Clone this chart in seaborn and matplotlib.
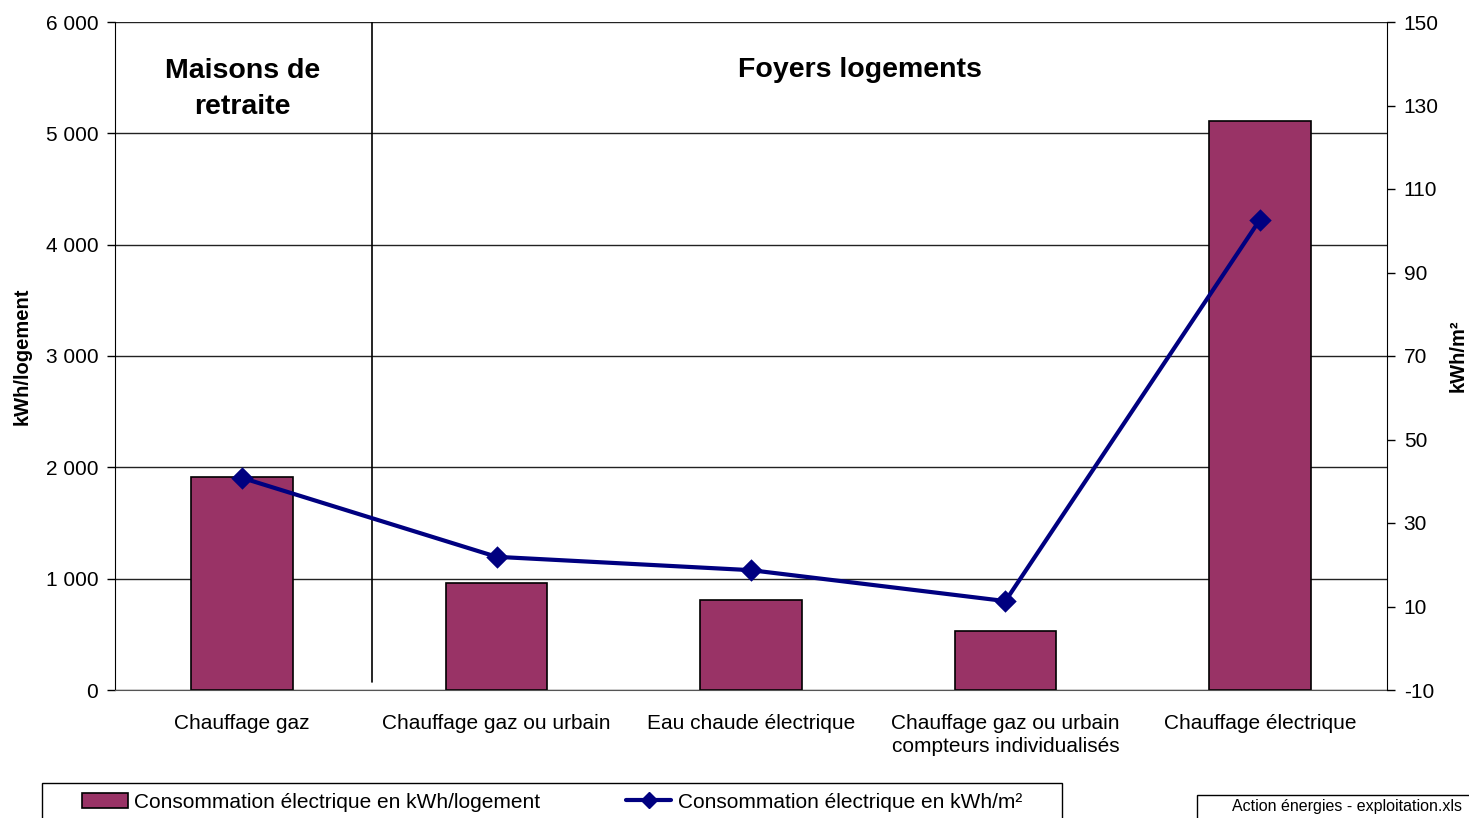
import numpy as np
import matplotlib
matplotlib.use("Agg")
import matplotlib.pyplot as plt
import seaborn as sns
from matplotlib.ticker import FuncFormatter, FixedLocator
from matplotlib.patches import Patch, Rectangle
from matplotlib.lines import Line2D

# Data
categories = [
    "Chauffage gaz",
    "Chauffage gaz ou urbain",
    "Eau chaude électrique",
    "Chauffage gaz ou urbain\ncompteurs individualisés",
    "Chauffage électrique",
]
kwh_logement = [1910, 960, 810, 530, 5110]
kwh_m2 = [40.8, 21.9, 18.7, 11.3, 102.6]

left_ticks = [0, 1000, 2000, 3000, 4000, 5000, 6000]
right_ticks = [-10, 10, 30, 50, 70, 90, 110, 130, 150]

bar_color = "#993366"
line_color = "#000080"

sns.set_style("white")
plt.rcParams["font.family"] = ["Liberation Sans", "DejaVu Sans"]
plt.rcParams["text.color"] = "black"
plt.rcParams["axes.labelcolor"] = "black"
plt.rcParams["xtick.color"] = "black"
plt.rcParams["ytick.color"] = "black"
plt.rcParams["axes.unicode_minus"] = False


def thousands(v, pos):
    return f"{int(v):,}".replace(",", " ")


W, H = 1469, 818
fig = plt.figure(figsize=(W / 100, H / 100), dpi=100)
ax = fig.add_axes([115 / W, 1 - 690 / H, 1272 / W, 668 / H])

# Bars on the left axis
sns.barplot(x=categories, y=kwh_logement, ax=ax, color=bar_color,
            saturation=1, width=0.4, edgecolor="black", linewidth=1.2,
            zorder=2)
ax.set_ylim(0, 6000)
ax.set_xlim(-0.5, len(categories) - 0.5)
ax.yaxis.set_major_locator(FixedLocator(left_ticks))
ax.yaxis.set_major_formatter(FuncFormatter(thousands))
ax.set_axisbelow(True)
ax.grid(axis="y", color="#222222", linewidth=1.0)
ax.grid(axis="x", visible=False)

# Category ticks sit between the groups, like Excel
ax.tick_params(axis="x", which="major", length=0, pad=17, labelsize=15)
for t in ax.get_xticklabels():
    t.set_linespacing(1.3)
ax.set_xticks(np.arange(len(categories)) + 0.5, minor=True)
ax.tick_params(axis="x", which="minor", length=6, color="#555555", width=1)
ax.tick_params(axis="y", length=6, width=1, color="black", left=True,
               labelsize=15, pad=6)
ax.set_xlabel("")
ax.set_ylabel("kWh/logement", fontsize=14.5, fontweight="bold")
ax.yaxis.set_label_coords(-(115 - 32) / 1272, 0.5)

for side in ["top", "right"]:
    ax.spines[side].set_visible(False)
ax.spines["left"].set_color("black")
ax.spines["bottom"].set_color("#555555")

# Divider between the two groups
ax.plot([0.51, 0.51], [70, 6000], color="black", linewidth=1.2, zorder=3)
ax.text(0, 5400, "Maisons de\nretraite", ha="center", va="center",
        fontsize=20.5, fontweight="bold", linespacing=1.5)
ax.text(2.43, 5570, "Foyers logements", ha="center", va="center",
        fontsize=20.5, fontweight="bold")

# Line on the right axis
ax2 = ax.twinx()
sns.pointplot(x=categories, y=kwh_m2, ax=ax2, color=line_color,
              markers="D", markersize=9, linewidth=3)
ax2.set_ylim(-10, 150)
ax2.set_xlim(-0.5, len(categories) - 0.5)
ax2.yaxis.set_major_locator(FixedLocator(right_ticks))
ax2.tick_params(axis="y", length=6, width=1, color="black", right=True,
                labelsize=15, pad=6)
ax2.tick_params(axis="x", which="both", length=0)
ax2.grid(False)
ax2.set_xlabel("")
ax2.set_ylabel("kWh/m²", fontsize=14.5, fontweight="bold")
ax2.yaxis.set_label_coords((1449 - 115) / 1272, 0.5)
for side in ["top", "left", "bottom"]:
    ax2.spines[side].set_visible(False)
ax2.spines["right"].set_color("black")

# Legend box at the bottom (runs off the lower edge, as in the original)
fig.patches.append(Rectangle((42 / W, -0.05), 1020 / W, 0.05 + 1 - 783 / H,
                             transform=fig.transFigure, facecolor="white",
                             edgecolor="black", linewidth=1))
handles = [
    Patch(facecolor=bar_color, edgecolor="black", linewidth=1.2),
    Line2D([0], [0], color=line_color, linewidth=3, marker="D", markersize=8),
]
labels = ["Consommation électrique en kWh/logement",
          "Consommation électrique en kWh/m²"]
fig.legend(handles, labels, loc="center left", ncol=2,
           bbox_to_anchor=(82 / W, 1 - 802 / H), fontsize=15, frameon=False,
           handlelength=2.2, handletextpad=0.3, columnspacing=4.1,
           borderaxespad=0, borderpad=0)

# Source note
fig.patches.append(Rectangle((1197 / W, -0.05), 0.25, 0.05 + 1 - 795 / H,
                             transform=fig.transFigure, facecolor="white",
                             edgecolor="black", linewidth=1))
fig.text(1232 / W, 1 - 807 / H, "Action énergies - exploitation.xls",
         fontsize=11.5, ha="left", va="center")

fig.savefig("out.png", dpi=100)
plt.close(fig)
